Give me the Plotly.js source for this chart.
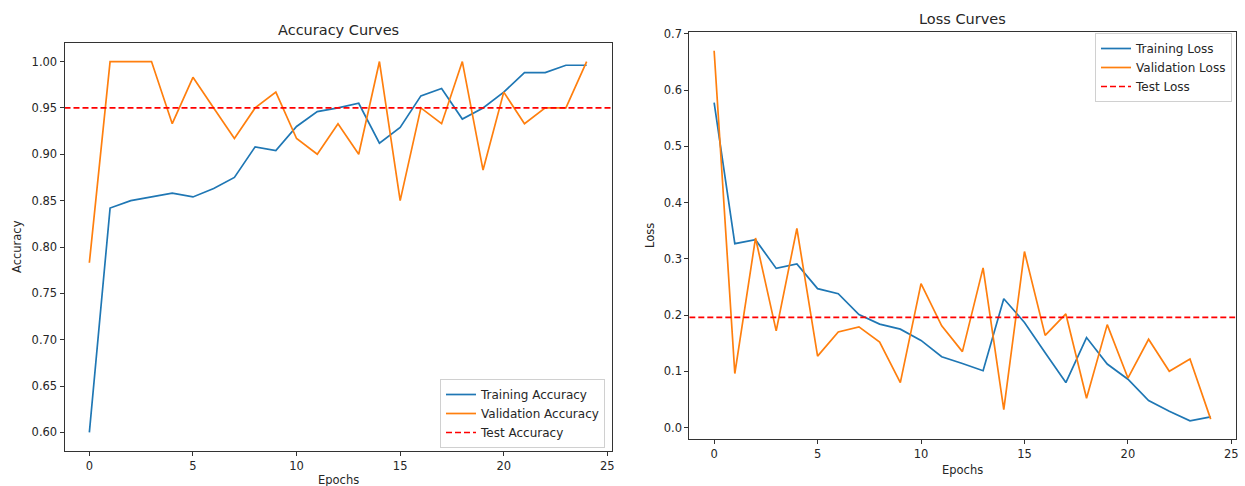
<!DOCTYPE html>
<html>
<head>
<meta charset="utf-8">
<script src="https://cdn.plot.ly/plotly-3.0.1.min.js"></script>
<style>
html,body{margin:0;padding:0;background:#fff;}
#chart{width:1245px;height:486px;}
</style>
</head>
<body>
<div id="chart"></div>
<script>
// ---- data ----
const epochs = [0,1,2,3,4,5,6,7,8,9,10,11,12,13,14,15,16,17,18,19,20,21,22,23,24];
const trainAcc = [0.600,0.842,0.850,0.854,0.858,0.854,0.863,0.875,0.908,0.904,0.930,0.946,0.950,0.955,0.912,0.929,0.963,0.971,0.938,0.950,0.967,0.988,0.988,0.996,0.996];
const valAcc = [0.783,1.000,1.000,1.000,0.933,0.983,0.950,0.917,0.950,0.967,0.917,0.900,0.933,0.900,1.000,0.850,0.950,0.933,1.000,0.883,0.967,0.933,0.950,0.950,1.000];
const testAcc = 0.95;
const trainLoss = [0.578,0.327,0.334,0.283,0.291,0.247,0.238,0.201,0.184,0.175,0.155,0.126,0.114,0.101,0.229,0.187,0.133,0.080,0.160,0.113,0.086,0.048,0.029,0.012,0.019];
const valLoss = [0.670,0.096,0.337,0.172,0.354,0.127,0.170,0.179,0.152,0.080,0.256,0.181,0.135,0.284,0.032,0.313,0.164,0.202,0.052,0.183,0.088,0.157,0.100,0.122,0.015];
const testLoss = 0.196;
const xTicks = [0,5,10,15,20,25];
const accTicks = [0.60,0.65,0.70,0.75,0.80,0.85,0.90,0.95,1.00];
const lossTicks = [0.0,0.1,0.2,0.3,0.4,0.5,0.6,0.7];

// matplotlib-style 5% margins
function padRange(arrs){
  const all = [].concat(...arrs);
  const lo = Math.min(...all), hi = Math.max(...all);
  const m = (hi-lo)*0.05;
  return [lo-m, hi+m];
}
const xRange = padRange([epochs]);
const accRange = padRange([trainAcc, valAcc]);
const lossRange = padRange([trainLoss, valLoss]);

const BLUE='#1f77b4', ORANGE='#ff7f0e', RED='#ff0000';
const FONT='DejaVu Sans';
const TXT='#262626';

const traces = [
  {x:epochs, y:trainAcc, type:'scatter', mode:'lines', name:'Training Accuracy', line:{color:BLUE,width:1.7}, xaxis:'x', yaxis:'y', legend:'legend'},
  {x:epochs, y:valAcc, type:'scatter', mode:'lines', name:'Validation Accuracy', line:{color:ORANGE,width:1.7}, xaxis:'x', yaxis:'y', legend:'legend'},
  {x:xRange, y:[testAcc,testAcc], type:'scatter', mode:'lines', name:'Test Accuracy', line:{color:RED,width:1.7,dash:'6px,3px'}, xaxis:'x', yaxis:'y', legend:'legend'},
  {x:epochs, y:trainLoss, type:'scatter', mode:'lines', name:'Training Loss', line:{color:BLUE,width:1.7}, xaxis:'x2', yaxis:'y2', legend:'legend2'},
  {x:epochs, y:valLoss, type:'scatter', mode:'lines', name:'Validation Loss', line:{color:ORANGE,width:1.7}, xaxis:'x2', yaxis:'y2', legend:'legend2'},
  {x:xRange, y:[testLoss,testLoss], type:'scatter', mode:'lines', name:'Test Loss', line:{color:RED,width:1.7,dash:'6px,3px'}, xaxis:'x2', yaxis:'y2', legend:'legend2'}
];

const W=1245, H=486;
function ax(extra){
  return Object.assign({
    showgrid:false, zeroline:false, showline:true, linecolor:'#333', linewidth:1, mirror:true,
    ticks:'outside', ticklen:4, tickwidth:1, tickcolor:'#333',
    tickfont:{family:FONT,size:11.5,color:TXT}, fixedrange:true
  }, extra);
}
const legendStyle = {
  font:{family:FONT,size:12,color:TXT}, bgcolor:'rgba(255,255,255,0.85)', bordercolor:'#d0d0d0', borderwidth:1,
  xanchor:'left', yanchor:'top', tracegroupgap:0, itemwidth:30
};

const layout = {
  width:W, height:H, margin:{l:0,r:0,t:0,b:0}, paper_bgcolor:'#fff', plot_bgcolor:'#fff',
  showlegend:true,
  font:{family:FONT,color:TXT},
  xaxis: ax({domain:[64.5/W, 611.5/W], range:xRange, tickvals:xTicks, anchor:'y'}),
  yaxis: ax({domain:[1-451/H, 1-43/H], range:accRange, tickvals:accTicks, tickformat:'.2f', anchor:'x'}),
  xaxis2: ax({domain:[689.3/W, 1235.5/W], range:xRange, tickvals:xTicks, anchor:'y2'}),
  yaxis2: ax({domain:[1-439.3/H, 1-32.3/H], range:lossRange, tickvals:lossTicks, tickformat:'.1f', anchor:'x2'}),
  legend: Object.assign({x:440/W, y:1-379/H}, legendStyle),
  legend2: Object.assign({x:1095/W, y:1-33/H}, legendStyle),
  annotations:[
    {text:'Accuracy Curves', xref:'paper', yref:'paper', x:338/W, y:1-30/H, xanchor:'center', yanchor:'middle', showarrow:false, font:{family:FONT,size:14.5,color:TXT}},
    {text:'Loss Curves', xref:'paper', yref:'paper', x:962/W, y:1-19/H, xanchor:'center', yanchor:'middle', showarrow:false, font:{family:FONT,size:14.5,color:TXT}},
    {text:'Epochs', xref:'paper', yref:'paper', x:338/W, y:1-480/H, xanchor:'center', yanchor:'middle', showarrow:false, font:{family:FONT,size:11.5,color:TXT}},
    {text:'Epochs', xref:'paper', yref:'paper', x:962/W, y:1-470/H, xanchor:'center', yanchor:'middle', showarrow:false, font:{family:FONT,size:11.5,color:TXT}},
    {text:'Accuracy', xref:'paper', yref:'paper', x:17/W, y:1-247/H, xanchor:'center', yanchor:'middle', textangle:-90, showarrow:false, font:{family:FONT,size:11.5,color:TXT}},
    {text:'Loss', xref:'paper', yref:'paper', x:650/W, y:1-236/H, xanchor:'center', yanchor:'middle', textangle:-90, showarrow:false, font:{family:FONT,size:11.5,color:TXT}}
  ]
};

Plotly.newPlot('chart', traces, layout, {displayModeBar:false, staticPlot:true});
</script>
</body>
</html>
